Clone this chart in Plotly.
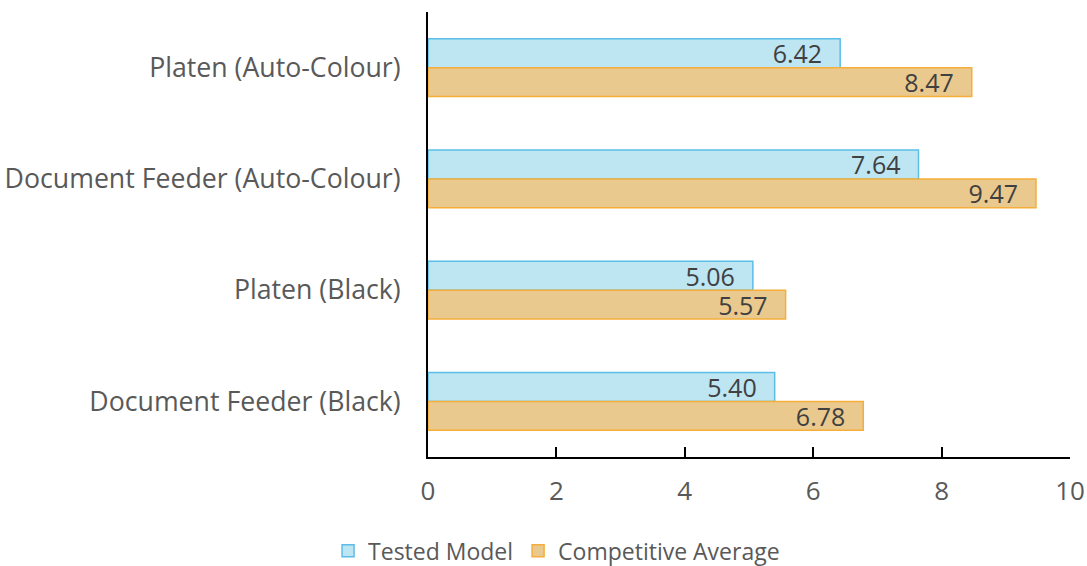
import plotly.graph_objects as go

categories = ["Platen (Auto-Colour)", "Document Feeder (Auto-Colour)", "Platen (Black)", "Document Feeder (Black)"]
tested_model = [6.42, 7.64, 5.06, 5.40]
competitive_avg = [8.47, 9.47, 5.57, 6.78]
x_ticks = [0, 2, 4, 6, 8, 10]

FONT = "Open Sans"
PAD = "\u2002\u200A"
fig = go.Figure()
fig.add_trace(go.Bar(
    y=categories, x=tested_model, orientation="h", name="Tested Model",
    marker=dict(color="#BDE5F2", line=dict(color="#5BBDE8", width=1.5)),
    text=[f"{v:.2f}{PAD}" for v in tested_model], textposition="inside",
    insidetextanchor="end", constraintext="none",
    textfont=dict(color="#404040", size=25, family=FONT),
))
fig.add_trace(go.Bar(
    y=categories, x=competitive_avg, orientation="h", name="Competitive Average",
    marker=dict(color="#EAC98E", line=dict(color="#F5AE3A", width=1.5)),
    text=[f"{v:.2f}{PAD}" for v in competitive_avg], textposition="inside",
    insidetextanchor="end", constraintext="none",
    textfont=dict(color="#404040", size=25, family=FONT),
))
fig.update_layout(
    width=1087, height=566,
    margin=dict(l=428, r=17, t=12, b=109, autoexpand=False),
    barmode="group", bargap=0.48, bargroupgap=0,
    plot_bgcolor="white", paper_bgcolor="white",
    font=dict(family=FONT, size=26, color="#595959"),
    uniformtext=dict(mode=False),
    legend=dict(orientation="h", xref="container", x=0.512, xanchor="center",
                yref="container", y=0.027, yanchor="middle",
                traceorder="normal", font=dict(size=23, color="#595959")),
    xaxis=dict(range=[0, 10], tickvals=x_ticks, showgrid=False, zeroline=False,
               showline=True, linecolor="black", linewidth=1.5, automargin=False,
               ticks="inside", ticklen=10, tickcolor="black", tickwidth=1.5,
               ticklabelstandoff=10, tickfont=dict(size=26, color="#595959")),
    yaxis=dict(autorange="reversed", showgrid=False, showline=True, linecolor="black",
               linewidth=2, ticks="", automargin=False,
               tickfont=dict(size=26.7, color="#595959"), ticklabelstandoff=20),
)
fig.write_html("out.html", config={"displayModeBar": False},
               post_script="document.body.style.margin='0';")
